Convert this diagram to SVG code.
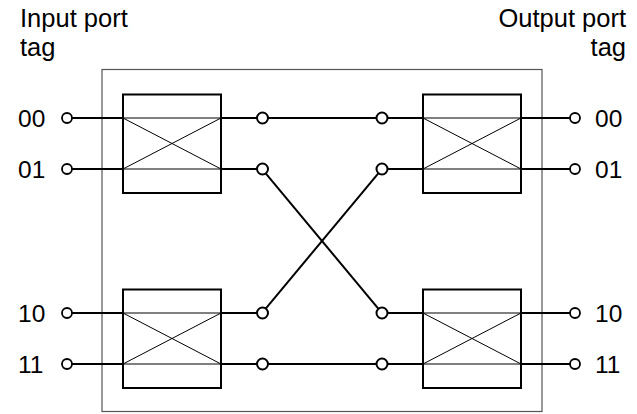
<svg xmlns="http://www.w3.org/2000/svg" width="637" height="414" viewBox="0 0 637 414">
  <style>
    .lbl { font-family: "Liberation Sans", Arial, sans-serif; font-size: 24.5px; fill: #000; }
    .hdr { font-family: "Liberation Sans", Arial, sans-serif; font-size: 25.5px; fill: #000; }
    .frame { fill: none; stroke: #555; stroke-width: 1.2; }
    .box { fill: #fff; stroke: #000; stroke-width: 2; }
    .thin { fill: none; stroke: #000; stroke-width: 1; }
    .wire { fill: none; stroke: #000; stroke-width: 2; }
    .port { fill: #fff; stroke: #000; stroke-width: 1.8; }
    .node { fill: #fff; stroke: #000; stroke-width: 2; }
  </style>
  <rect width="637" height="414" fill="#fff"/>

  <!-- headers -->
  <text class="hdr" x="20" y="27">Input port</text>
  <text class="hdr" x="20" y="56">tag</text>
  <text class="hdr" x="626" y="27" text-anchor="end">Output port</text>
  <text class="hdr" x="626" y="56" text-anchor="end">tag</text>

  <!-- enclosing frame -->
  <rect class="frame" x="102" y="69.5" width="440" height="342"/>

  <!-- connectors -->
  <g id="connectors">
    <!-- input wires -->
    <line class="wire" x1="72" y1="118" x2="123" y2="118"/>
    <line class="wire" x1="72" y1="169" x2="123" y2="169"/>
    <line class="wire" x1="72" y1="313" x2="123" y2="313"/>
    <line class="wire" x1="72" y1="364" x2="123" y2="364"/>
    <!-- stage 1 outputs -->
    <line class="wire" x1="221" y1="118" x2="257" y2="118"/>
    <line class="wire" x1="221" y1="169" x2="257" y2="169"/>
    <line class="wire" x1="221" y1="313" x2="257" y2="313"/>
    <line class="wire" x1="221" y1="364" x2="257" y2="364"/>
    <!-- interstage links -->
    <line class="wire" x1="268" y1="118" x2="377" y2="118"/>
    <line class="wire" x1="268" y1="364" x2="377" y2="364"/>
    <line class="wire" x1="265.5" y1="173.2" x2="378.5" y2="308.8"/>
    <line class="wire" x1="265.5" y1="308.8" x2="378.5" y2="173.2"/>
    <!-- stage 2 inputs -->
    <line class="wire" x1="388" y1="118" x2="423" y2="118"/>
    <line class="wire" x1="388" y1="169" x2="423" y2="169"/>
    <line class="wire" x1="388" y1="313" x2="423" y2="313"/>
    <line class="wire" x1="388" y1="364" x2="423" y2="364"/>
    <!-- output wires -->
    <line class="wire" x1="521" y1="118" x2="570" y2="118"/>
    <line class="wire" x1="521" y1="169" x2="570" y2="169"/>
    <line class="wire" x1="521" y1="313" x2="570" y2="313"/>
    <line class="wire" x1="521" y1="364" x2="570" y2="364"/>
    <!-- link nodes -->
    <circle class="node" cx="262.5" cy="118" r="5.5"/>
    <circle class="node" cx="262.5" cy="169" r="5.5"/>
    <circle class="node" cx="262.5" cy="313" r="5.5"/>
    <circle class="node" cx="262.5" cy="364" r="5.5"/>
    <circle class="node" cx="382" cy="118" r="5.5"/>
    <circle class="node" cx="382" cy="169" r="5.5"/>
    <circle class="node" cx="382" cy="313" r="5.5"/>
    <circle class="node" cx="382" cy="364" r="5.5"/>
  </g>

  <!-- switching elements -->
  <g id="sw-1-0">
    <rect class="box" x="123" y="94.5" width="98" height="98.5"/>
    <path class="thin" d="M123 118H221M123 169H221M123 118L221 169M123 169L221 118"/>
  </g>
  <g id="sw-1-1">
    <rect class="box" x="123" y="289.5" width="98" height="98.5"/>
    <path class="thin" d="M123 313H221M123 364H221M123 313L221 364M123 364L221 313"/>
  </g>
  <g id="sw-2-0">
    <rect class="box" x="423" y="94.5" width="98" height="98.5"/>
    <path class="thin" d="M423 118H521M423 169H521M423 118L521 169M423 169L521 118"/>
  </g>
  <g id="sw-2-1">
    <rect class="box" x="423" y="289.5" width="98" height="98.5"/>
    <path class="thin" d="M423 313H521M423 364H521M423 313L521 364M423 364L521 313"/>
  </g>

  <!-- input ports -->
  <g id="in-00"><circle class="port" cx="67" cy="118" r="5"/><text class="lbl" x="18" y="127">00</text></g>
  <g id="in-01"><circle class="port" cx="67" cy="169" r="5"/><text class="lbl" x="18" y="178">01</text></g>
  <g id="in-10"><circle class="port" cx="67" cy="313" r="5"/><text class="lbl" x="18" y="322">10</text></g>
  <g id="in-11"><circle class="port" cx="67" cy="364" r="5"/><text class="lbl" x="18" y="373">11</text></g>

  <!-- output ports -->
  <g id="out-00"><circle class="port" cx="575" cy="118" r="5"/><text class="lbl" x="595" y="127">00</text></g>
  <g id="out-01"><circle class="port" cx="575" cy="169" r="5"/><text class="lbl" x="595" y="178">01</text></g>
  <g id="out-10"><circle class="port" cx="575" cy="313" r="5"/><text class="lbl" x="595" y="322">10</text></g>
  <g id="out-11"><circle class="port" cx="575" cy="364" r="5"/><text class="lbl" x="595" y="373">11</text></g>
</svg>
